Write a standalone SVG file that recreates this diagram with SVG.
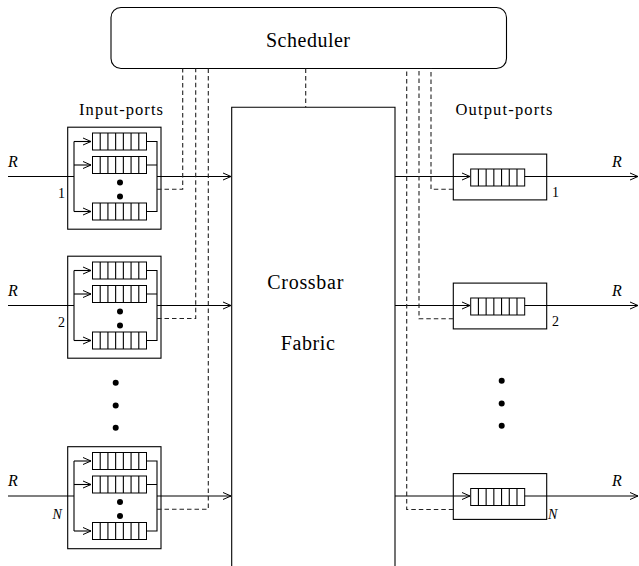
<svg xmlns="http://www.w3.org/2000/svg" xmlns:xlink="http://www.w3.org/1999/xlink" width="639" height="566" viewBox="0 0 639 566" font-family="'Liberation Serif', 'DejaVu Serif', serif">
<style>
.ln{fill:none;stroke:#000;stroke-width:1.1}
.dash{fill:none;stroke:#222;stroke-width:1.1;stroke-dasharray:4.5 3}
.box{fill:#fff;stroke:#000;stroke-width:1.1}
.q{fill:#fff;stroke:#000;stroke-width:1}
.t{font-family:'Liberation Serif','DejaVu Serif',serif;fill:#000}
.big{font-size:20px}
.lab{font-size:16.5px}
.r{font-size:16px;font-style:italic}
.n{font-size:14px}
.dot{fill:#000}
</style>
<defs>
<marker id="arr" markerUnits="userSpaceOnUse" markerWidth="12" markerHeight="12" viewBox="-10 -6 12 12" refX="0" refY="0" orient="auto">
<path d="M-8,-3.5 L0,0 L-8,3.5" fill="none" stroke="#000" stroke-width="1"/>
</marker>
<g id="queue">
<rect class="q" x="0" y="0" width="54" height="17"/>
<path class="ln" d="M7.71 0v17M15.43 0v17M23.14 0v17M30.86 0v17M38.57 0v17M46.29 0v17"/>
</g>
<g id="inport">
<rect class="box" x="67.7" y="-49.3" width="93.3" height="102"/>
<path class="ln" d="M74 -35V35"/>
<path class="ln" marker-end="url(#arr)" d="M74 -35H91"/>
<path class="ln" marker-end="url(#arr)" d="M74 -11.5H91"/>
<path class="ln" marker-end="url(#arr)" d="M74 35H91"/>
<use xlink:href="#queue" x="92.5" y="-43.5"/>
<use xlink:href="#queue" x="92.5" y="-20"/>
<use xlink:href="#queue" x="92.5" y="26.5"/>
<path class="ln" d="M146.5 -35H157V35H146.5M146.5 -11.5H157"/>
<circle class="dot" cx="120" cy="6" r="3"/>
<circle class="dot" cx="120" cy="20" r="3"/>
</g>
<g id="outport">
<rect class="box" x="453.3" y="-22.4" width="93.4" height="45.8"/>
<use xlink:href="#queue" x="470.7" y="-7.5"/>
</g>
</defs>

<g id="scheduler">
<rect class="box" x="111" y="7.5" width="395.5" height="61" rx="10" ry="10"/>
<text class="t big" x="308" y="46.5" text-anchor="middle" textLength="84" lengthAdjust="spacing">Scheduler</text>
</g>

<g id="crossbar">
<path class="ln" d="M231.7 570V107.3H395V570"/>
<text class="t big" x="305.3" y="289.3" text-anchor="middle" textLength="76" lengthAdjust="spacing">Crossbar</text>
<text class="t big" x="307.8" y="350" text-anchor="middle" textLength="54" lengthAdjust="spacing">Fabric</text>
</g>

<text class="t lab" x="121" y="114.5" text-anchor="middle" textLength="84" lengthAdjust="spacing">Input-ports</text>
<text class="t lab" x="504" y="114.5" text-anchor="middle" textLength="97" lengthAdjust="spacing">Output-ports</text>

<g id="in1" transform="translate(0,176.5)">
<use xlink:href="#inport"/>
<text class="t r" x="8" y="-10">R</text>
<text class="t n" x="58" y="21">1</text>
</g>
<g id="in2" transform="translate(0,305.5)">
<use xlink:href="#inport"/>
<text class="t r" x="8" y="-10">R</text>
<text class="t n" x="58" y="21">2</text>
</g>
<g id="inN" transform="translate(0,496)">
<use xlink:href="#inport"/>
<text class="t r" x="8" y="-10">R</text>
<text class="t n" x="52.5" y="23" font-style="italic">N</text>
</g>

<g id="in-dots">
<circle class="dot" cx="115.7" cy="382.7" r="3"/>
<circle class="dot" cx="115.7" cy="405.5" r="3"/>
<circle class="dot" cx="115.7" cy="427.7" r="3"/>
</g>

<g id="out1" transform="translate(0,176.5)">
<use xlink:href="#outport"/>
<text class="t r" x="612" y="-10">R</text>
<text class="t n" x="552" y="20">1</text>
</g>
<g id="out2" transform="translate(0,305.5)">
<use xlink:href="#outport"/>
<text class="t r" x="612" y="-10">R</text>
<text class="t n" x="552" y="20">2</text>
</g>
<g id="outN" transform="translate(0,496)">
<use xlink:href="#outport"/>
<text class="t r" x="612" y="-10">R</text>
<text class="t n" x="548" y="22.5" font-style="italic">N</text>
</g>

<g id="out-dots">
<circle class="dot" cx="501.7" cy="380.7" r="3"/>
<circle class="dot" cx="501.7" cy="403.5" r="3"/>
<circle class="dot" cx="501.7" cy="425.7" r="3"/>
</g>

<g id="connectors">
<path class="ln" d="M8 176.5H74M8 305.5H74M8 496H74"/>
<path class="ln" marker-end="url(#arr)" d="M157 176.5H231"/>
<path class="ln" marker-end="url(#arr)" d="M157 305.5H231"/>
<path class="ln" marker-end="url(#arr)" d="M157 496H231"/>
<path class="ln" marker-end="url(#arr)" d="M395 176.5H470"/>
<path class="ln" marker-end="url(#arr)" d="M395 305.5H470"/>
<path class="ln" marker-end="url(#arr)" d="M395 496H470"/>
<path class="ln" marker-end="url(#arr)" d="M524.7 176.5H638"/>
<path class="ln" marker-end="url(#arr)" d="M524.7 305.5H638"/>
<path class="ln" marker-end="url(#arr)" d="M524.7 496H638"/>
<path class="dash" d="M157 189.2H182.7V68.5"/>
<path class="dash" d="M157 318.5H195.7V68.5"/>
<path class="dash" d="M157 509.2H208.3V68.5"/>
<path class="dash" d="M305.7 68.5V107.3"/>
<path class="dash" d="M453.3 189.2H431V68.5"/>
<path class="dash" d="M453.3 318.8H419V68.5"/>
<path class="dash" d="M453.3 509.5H406.7V68.5"/>
</g>
</svg>
